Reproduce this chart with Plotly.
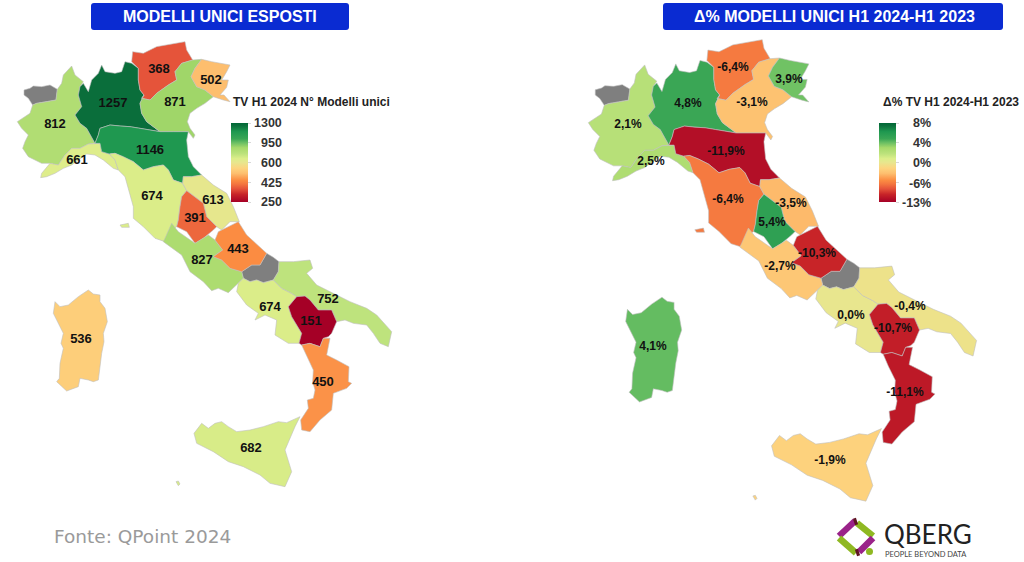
import plotly.graph_objects as go
from plotly.colors import sample_colorscale
import numpy as np

# ---------- data ----------
regions = ["Piemonte","Liguria","Lombardia","Trentino","Veneto","Friuli","Emilia","Toscana","Marche","Umbria",
           "Lazio","Abruzzo","Campania","Puglia","Basilicata","Calabria","Sicilia","Sardegna"]
models_h1_2024 = [812,661,1257,368,871,502,1146,674,613,391,827,443,674,752,151,450,682,536]
delta_pct = [2.1,2.5,4.8,-6.4,-3.1,3.9,-11.9,-6.4,-3.5,5.4,-2.7,-10.3,0.0,-0.4,-10.7,-11.1,-1.9,4.1]
left_ticks = [250,425,600,950,1300]
right_ticks = [-13,-6,0,4,8]
left_tick_labels = ["250","425","600","950","1300"]
right_tick_labels = ["-13%","-6%","0%","4%","8%"]

# colour scale over the five evenly spaced legend positions 0..4
scale_pos = [0,.39,.67,.91,1.1,1.45,1.7,2,2.2,2.45,2.75,3,3.2,3.56,3.88,4]
scale_col = ["#a50026","#c82428","#e5533a","#f4763f","#fb8c42","#fdbf6f","#fdd37e","#e8e68e","#dcee8a",
             "#bce27c","#a6d96a","#6abf63","#3aa655","#1f9850","#0a6e3b","#006837"]

# ---------- region outlines (map units: one unit = 1/3 px of the left map) ----------
Piemonte=[(215,198),(225,225),(250,245),(240,260),(235,285),(245,320),(225,345),(240,370),(260,385),(285,430),(265,432),(240,445),(215,445),(195,465),(175,495),(150,490),(125,490),(105,480),(85,470),(68,445),(75,425),(85,405),(65,385),(52,365),(75,350),(90,340),(98,315),(110,310),(140,305),(168,300),(172,268),(185,250),(190,225),(205,210)]
Aosta=[(72,270),(90,265),(100,258),(125,260),(150,255),(172,268),(168,300),(140,305),(110,310),(98,315),(85,295),(72,285)]
Lombardia=[(235,285),(240,260),(250,250),(265,275),(275,240),(295,220),(305,195),(315,215),(345,220),(365,215),(375,185),(395,190),(415,205),(415,240),(420,270),(432,285),(420,310),(425,340),(440,365),(480,395),(420,385),(390,380),(360,378),(330,375),(300,385),(295,405),(285,430),(260,385),(240,370),(225,345),(245,320)]
Trentino=[(398,155),(430,160),(470,140),(500,135),(555,125),(560,150),(578,180),(545,190),(525,215),(530,240),(505,255),(470,280),(450,300),(425,295),(432,285),(420,270),(415,240),(415,205),(395,185)]
Friuli=[(573,230),(585,205),(605,178),(635,185),(690,195),(680,215),(665,240),(685,240),(680,262),(660,285),(672,285),(690,305),(670,300),(640,290),(615,270),(590,260)]
Veneto=[(578,180),(605,178),(585,205),(573,230),(590,260),(615,270),(640,290),(615,310),(590,325),(570,340),(562,365),(570,385),(585,405),(580,415),(565,395),(520,395),(480,395),(440,365),(425,340),(420,310),(432,285),(425,295),(450,300),(470,280),(505,255),(530,240),(525,215),(545,190)]
Emilia=[(300,385),(330,375),(360,378),(390,380),(420,385),(480,395),(520,395),(565,395),(560,420),(565,470),(580,500),(605,525),(575,530),(550,530),(548,550),(520,540),(505,510),(490,495),(460,500),(430,510),(400,485),(370,470),(345,460),(328,462),(305,455),(300,430),(285,430),(295,405)]
Liguria=[(125,520),(150,490),(175,495),(195,465),(215,445),(240,445),(265,432),(285,430),(300,430),(305,455),(328,462),(345,480),(355,510),(340,505),(310,480),(285,465),(260,462),(235,480),(215,495),(190,505),(165,520),(140,530),(122,533)]
Toscana=[(328,462),(345,460),(370,470),(400,485),(430,510),(460,500),(490,495),(505,510),(520,540),(548,550),(560,572),(545,590),(540,620),(535,660),(530,680),(515,690),(495,725),(465,715),(430,680),(400,655),(400,620),(385,570),(375,530),(355,510),(345,480)]
Elba=[(360,675),(385,670),(388,682),(365,682)]
Marche=[(548,550),(550,530),(575,530),(605,525),(640,555),(680,580),(700,620),(718,665),(690,665),(665,690),(650,680),(620,650),(610,610),(585,590),(560,572)]
Umbria=[(560,572),(585,590),(610,610),(620,650),(650,680),(640,690),(610,715),(585,730),(560,695),(530,680),(535,660),(540,620),(545,590)]
# southern outlines: offset (450,600) from the map-unit origin
Abruzzo=[(265,65),(290,105),(350,160),(330,195),(305,195),(275,215),(240,205),(215,180),(190,170),(218,150),(195,120),(205,95),(235,80)]
Lazio=[(65,70),(85,95),(135,130),(175,105),(195,120),(218,150),(190,170),(215,180),(240,205),(275,215),(280,235),(265,250),(235,278),(205,265),(185,272),(160,245),(120,215),(95,165),(40,125),(45,115)]
Molise=[(350,160),(370,172),(387,185),(385,215),(370,240),(340,248),(320,240),(300,245),(280,235),(275,215),(305,195),(330,195)]
Puglia=[(387,185),(430,185),(480,180),(488,205),(470,220),(500,255),(560,285),(600,305),(650,325),(680,345),(725,395),(715,440),(690,430),(670,400),(650,375),(610,370),(585,360),(560,365),(545,330),(505,330),(480,300),(465,288),(440,290),(425,280),(395,265),(370,240),(385,215)]
Campania=[(265,250),(280,235),(300,245),(320,240),(340,248),(370,240),(395,265),(425,280),(440,290),(415,320),(425,350),(455,400),(447,430),(415,430),(375,405),(380,360),(345,345),(315,360),(325,340),(290,315),(260,275)]
Basilicata=[(440,290),(465,288),(480,300),(505,330),(545,330),(560,365),(545,400),(535,410),(520,415),(510,440),(480,430),(455,435),(447,430),(455,400),(425,350),(415,320)]
Calabria=[(455,435),(480,430),(510,440),(520,415),(540,415),(530,465),(560,480),(597,500),(595,545),(605,550),(590,565),(550,580),(545,630),(510,660),(480,695),(455,690),(452,660),(475,625),(472,600),(490,595),(495,570),(488,545),(490,510),(470,470)]
Sicilia=[(132,700),(155,670),(175,685),(195,670),(215,665),(235,680),(260,695),(300,690),(340,680),(385,665),(410,668),(450,650),(435,680),(405,750),(425,815),(405,860),(360,850),(330,825),(280,800),(235,785),(190,755),(140,730)]
Pantelleria=[(78,845),(85,843),(90,852),(85,857)]
# Sardinia: offset (0,840)
Sardegna=[(165,65),(180,80),(205,75),(235,50),(265,30),(280,42),(300,45),(300,65),(315,85),(322,125),(310,160),(312,185),(305,220),(295,300),(280,305),(265,300),(240,295),(235,320),(200,333),(185,320),(170,305),(178,295),(180,250),(190,205),(183,190),(190,160),(160,100)]

north = (0,0); south = (450,600); sard = (0,840)
outlines = {
 "Piemonte":[(Piemonte,north)],"Liguria":[(Liguria,north)],"Lombardia":[(Lombardia,north)],"Trentino":[(Trentino,north)],
 "Veneto":[(Veneto,north)],"Friuli":[(Friuli,north)],"Emilia":[(Emilia,north)],"Toscana":[(Toscana,north),(Elba,north)],
 "Marche":[(Marche,north)],"Umbria":[(Umbria,north)],"Lazio":[(Lazio,south)],"Abruzzo":[(Abruzzo,south)],
 "Campania":[(Campania,south)],"Puglia":[(Puglia,south)],"Basilicata":[(Basilicata,south)],"Calabria":[(Calabria,south)],
 "Sicilia":[(Sicilia,south),(Pantelleria,south)],"Sardegna":[(Sardegna,sard)],
}
nodata = [(Aosta,north),(Molise,south)]

# label anchors in page pixels
left_lab_x=[55,77,113,159,175,211,150,152,213,195,202,238,270,328,311,323,251,81]
left_lab_y=[125,161,104,70,103,81,151,197,201,219,261,250,308,300,322,383,449,340]
right_lab_x=[628,651,688,733,752,789,726,728,791,772,780,817,851,910,893,905,830,653]
right_lab_y=[125,162,104,68,103,80,152,200,204,223,267,254,316,307,329,393,461,347]

W,H=1024,562
stops=[[p/4,c] for p,c in zip(scale_pos,scale_col)]
def colour(v,ticks):
    return sample_colorscale(stops,[float(np.interp(v,ticks,[0,1,2,3,4]))/4])[0]

fig=go.Figure()

def poly(pts,off,fill,name,xa,ya):
    xs=[p[0]+off[0] for p in pts]; ys=[p[1]+off[1] for p in pts]
    fig.add_trace(go.Scatter(x=xs+xs[:1],y=ys+ys[:1],mode="lines",fill="toself",fillcolor=fill,name=name,
        line=dict(color="rgba(190,190,190,0.85)",width=0.7),hoverinfo="name",showlegend=False,xaxis=xa,yaxis=ya))

for xa,ya,vals,ticks in (("x2","y2",models_h1_2024,left_ticks),("x3","y3",delta_pct,right_ticks)):
    for (pts,off) in nodata:
        poly(pts,off,"#7f7f7f","n.d.",xa,ya)
    for r,v in zip(regions,vals):
        for pts,off in outlines[r]:
            poly(pts,off,colour(v,ticks),r,xa,ya)

# value labels, on a top overlay axis pair
fig.add_trace(go.Scatter(x=left_lab_x,y=left_lab_y,mode="text",text=[str(v) for v in models_h1_2024],
    textposition="middle center",textfont=dict(family="Liberation Sans",size=13,color="#111",weight="bold"),
    hoverinfo="skip",showlegend=False,xaxis="x4",yaxis="y4",cliponaxis=False))
fig.add_trace(go.Scatter(x=right_lab_x,y=right_lab_y,mode="text",
    text=[f"{v:.1f}%".replace(".",",") for v in delta_pct],
    textposition="middle center",textfont=dict(family="Liberation Sans",size=12,color="#111",weight="bold"),
    hoverinfo="skip",showlegend=False,xaxis="x4",yaxis="y4",cliponaxis=False))

# colour bars (real plotly colorbars on invisible markers)
def cbar(xpix):
    fig.add_trace(go.Scatter(x=[0],y=[-50],mode="markers",showlegend=False,hoverinfo="skip",xaxis="x",yaxis="y",
        marker=dict(size=1,color=[0],cmin=0,cmax=4,colorscale=stops,showscale=True,
        colorbar=dict(x=xpix/W,xanchor="left",y=1-123/H,yanchor="top",len=79,lenmode="pixels",thickness=17,
            thicknessmode="pixels",outlinewidth=0,xpad=0,ypad=0,tickmode="array",tickvals=[0,1,2,3,4],
            ticks="outside",ticklen=3,tickcolor="#d8d8d8",showticklabels=False))))
cbar(231); cbar(879)

ann=[]
for lab,yy in zip(left_tick_labels,[202,182.5,163,143,122.5]):
    ann.append(dict(x=284,y=yy,text=f"<b>{lab}</b>",xanchor="right",font=dict(size=12.5,color="#333")))
for lab,yy in zip(right_tick_labels,[203,183.5,163,143,123]):
    ann.append(dict(x=933,y=yy,text=f"<b>{lab}</b>",xanchor="right",font=dict(size=12.5,color="#333")))
ann.append(dict(x=231,y=102,text="<b>TV H1 2024 N° Modelli unici</b>",xanchor="left",font=dict(size=12,color="#222")))
ann.append(dict(x=881,y=102,text="<b>Δ% TV H1 2024-H1 2023</b>",xanchor="left",font=dict(size=12,color="#222")))
ann.append(dict(x=220,y=16,text="<b>MODELLI UNICI ESPOSTI</b>",font=dict(size=16,color="white")))
ann.append(dict(x=834,y=16,text="<b>Δ% MODELLI UNICI H1 2024-H1 2023</b>",font=dict(size=16,color="white")))
ann.append(dict(x=52,y=536,text="Fonte: QPoint 2024",xanchor="left",font=dict(family="DejaVu Sans",size=18.5,color="#9a9a9a")))
ann.append(dict(x=882,y=534,text="QBERG",xanchor="left",font=dict(family="Lato",size=26,color="#222")))
ann.append(dict(x=883,y=554,text="PEOPLE BEYOND DATA",xanchor="left",font=dict(family="Lato",size=7.5,color="#444")))
for a in ann:
    a.update(xref="x",yref="y",showarrow=False,yanchor="middle")
    a.setdefault("xanchor","center")
    a["font"].setdefault("family","Liberation Sans")

def rrect(x0,y0,x1,y1,r=3):
    return (f"M{x0+r},{y0} L{x1-r},{y0} Q{x1},{y0} {x1},{y0+r} L{x1},{y1-r} Q{x1},{y1} {x1-r},{y1} "
            f"L{x0+r},{y1} Q{x0},{y1} {x0},{y1-r} L{x0},{y0+r} Q{x0},{y0} {x0+r},{y0} Z")
shapes=[dict(type="path",path=rrect(91,3,349,30),fillcolor="#0a2bd2",line_width=0,xref="x",yref="y",layer="below"),
        dict(type="path",path=rrect(663,3,1003,30),fillcolor="#0a2bd2",line_width=0,xref="x",yref="y",layer="below")]
def seg(x0,y0,x1,y1,c,w=6.5):
    return dict(type="line",x0=x0,y0=y0,x1=x1,y1=y1,line=dict(color=c,width=w),xref="x",yref="y")
PUR,GRN,MAR="#9a2389","#8fb822","#5e1522"
shapes+=[seg(839,536,855,521,PUR),seg(839,538,856,553,GRN),seg(857,523,873,536,GRN),seg(873,538,859,552,PUR),
         seg(854,522,857,521,MAR,7),seg(856,553,859,552,MAR,7),
         dict(type="circle",x0=866,x1=873,y0=548,y1=555,fillcolor=GRN,line_width=0,xref="x",yref="y")]

axis_off=dict(visible=False,fixedrange=True)
S=1.037
layout=dict(width=W,height=H,margin=dict(l=0,r=0,t=0,b=0,pad=0),paper_bgcolor="white",plot_bgcolor="rgba(0,0,0,0)",
    showlegend=False,annotations=ann,shapes=shapes,
    xaxis=dict(range=[0,W],domain=[0,1],**axis_off),yaxis=dict(range=[H,0],domain=[0,1],**axis_off),
    xaxis2=dict(range=[0,W*3],domain=[0,1],overlaying="x",**axis_off),yaxis2=dict(range=[H*3,0],domain=[0,1],overlaying="y",**axis_off),
    xaxis3=dict(range=[3*(17-588/S),3*(17+(W-588)/S)],domain=[0,1],overlaying="x",**axis_off),
    yaxis3=dict(range=[3*(41+(H-39)/S),3*(41-39/S)],domain=[0,1],overlaying="y",**axis_off),
    xaxis4=dict(range=[0,W],domain=[0,1],overlaying="x",**axis_off),yaxis4=dict(range=[H,0],domain=[0,1],overlaying="y",**axis_off))
fig.update_layout(**layout)
fig.write_html("out.html",config=dict(displayModeBar=False),
    post_script="document.body.style.margin='0';document.body.style.overflow='hidden';")
